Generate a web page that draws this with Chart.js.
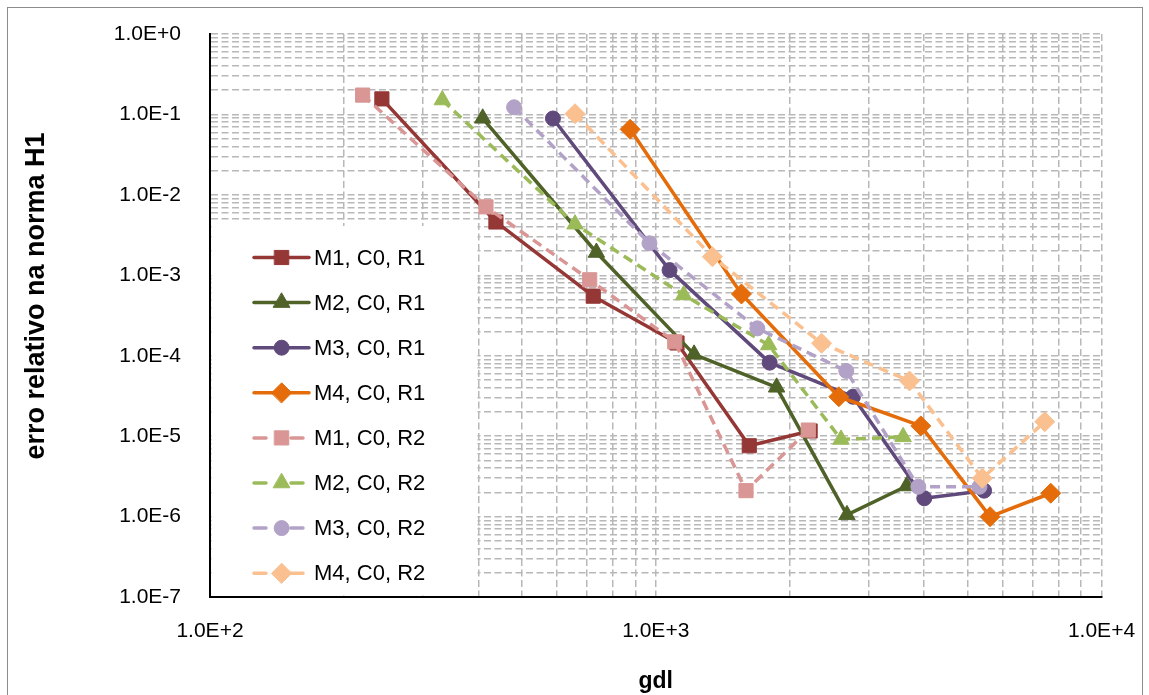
<!DOCTYPE html>
<html>
<head>
<meta charset="utf-8">
<script src="https://cdn.jsdelivr.net/npm/chart.js@4.4.1/dist/chart.umd.min.js"></script>
<style>
html,body{margin:0;padding:0;background:#fff;}
canvas{display:block;}
</style>
</head>
<body>
<canvas id="c" width="1149" height="695"></canvas>
<script>
// ---------- data ----------
const seriesNames = ['M1, C0, R1','M2, C0, R1','M3, C0, R1','M4, C0, R1','M1, C0, R2','M2, C0, R2','M3, C0, R2','M4, C0, R2'];

const m1r1X = [243, 438, 724, 1116, 1621, 2220];
const m1r1Y = [0.156, 4.6e-3, 5.5e-4, 1.44e-4, 7.6e-6, 1.16e-5];
const m2r1X = [409, 736, 1219, 1867, 2685, 3656];
const m2r1Y = [8.95e-2, 1.92e-3, 1.04e-4, 4.05e-5, 1.05e-6, 2.4e-6];
const m3r1X = [588, 1074, 1801, 2770, 4003, 5452];
const m3r1Y = [8.9e-2, 1.16e-3, 8.2e-5, 3.09e-5, 1.69e-6, 2.1e-6];
const m4r1X = [876, 1557, 2575, 3932, 5623, 7693];
const m4r1Y = [6.53e-2, 5.85e-4, 3.09e-5, 1.34e-5, 9.97e-7, 1.95e-6];
const m1r2X = [220, 416, 711, 1103, 1594, 2199];
const m1r2Y = [0.174, 7.1e-3, 8.8e-4, 1.49e-4, 2.1e-6, 1.19e-5];
const m2r2X = [332, 659, 1155, 1792, 2604, 3589];
const m2r2Y = [0.151, 4.32e-3, 5.69e-4, 1.36e-4, 9.1e-6, 9.8e-6];
const m3r2X = [481, 968, 1690, 2676, 3882, 5324];
const m3r2Y = [0.1227, 2.5e-3, 2.19e-4, 6.46e-5, 2.35e-6, 2.35e-6];
const m4r2X = [659, 1340, 2355, 3709, 5402, 7458];
const m4r2Y = [0.102, 1.70e-3, 1.43e-4, 4.85e-5, 2.99e-6, 1.51e-5];

const xMajorTicks = [1e2, 1e3, 1e4];
const yMajorTicks = [1e-7, 1e-6, 1e-5, 1e-4, 1e-3, 1e-2, 1e-1, 1e0];
const minorMultipliers = [1, 2, 3, 4, 5, 6, 7, 8, 9];

const xTitle = 'gdl';
const yTitle = 'erro relativo na norma H1';

// ---------- styles ----------
const colors = ['#953735','#4F6228','#604A7B','#E46C0A','#D99694','#9BBB59','#B3A2C7','#FAC090'];
const shapes = ['rect','triangle','circle','rectRot','rect','triangle','circle','rectRot'];
const radiusOf = {rect: 10, triangle: 9.5, circle: 7.5, rectRot: 10};
const dashed = [false,false,false,false,true,true,true,true];

const xs = [m1r1X, m2r1X, m3r1X, m4r1X, m1r2X, m2r2X, m3r2X, m4r2X];
const ys = [m1r1Y, m2r1Y, m3r1Y, m4r1Y, m1r2Y, m2r2Y, m3r2Y, m4r2Y];

function gridValues(majors) {
  const out = [];
  for (let i = 0; i < majors.length - 1; i++) {
    const e = Math.round(Math.log10(majors[i]));
    minorMultipliers.forEach(m => out.push(Number(m + 'e' + e)));
  }
  out.push(majors[majors.length - 1]);
  return out;
}
const xGrid = gridValues(xMajorTicks);
const yGrid = gridValues(yMajorTicks);

function isDecade(v) {
  const l = Math.log10(v);
  return Math.abs(l - Math.round(l)) < 1e-9;
}
function fmt(v) {
  return isDecade(v) ? Number(v).toExponential(1).toUpperCase() : '';
}

const datasets = seriesNames.map((name, i) => ({
  label: name,
  data: xs[i].map((x, k) => ({x: x, y: ys[i][k]})),
  borderColor: colors[i],
  backgroundColor: colors[i],
  pointBackgroundColor: colors[i],
  pointBorderColor: colors[i],
  pointBorderWidth: 1,
  pointStyle: shapes[i],
  pointRadius: radiusOf[shapes[i]],
  pointHoverRadius: radiusOf[shapes[i]],
  borderWidth: 3.5,
  borderDash: dashed[i] ? [10, 6] : [],
  showLine: true,
  tension: 0,
  fill: false,
  order: seriesNames.length - i
}));

const FONT = "'Liberation Sans', Arial, sans-serif";
const gridColor = '#B8B8B8';

function zeroPad(s) {
  s.paddingLeft = 0; s.paddingRight = 0; s.paddingTop = 0; s.paddingBottom = 0;
}

const frame = {
  id: 'frame',
  beforeDraw(chart) {
    const ctx = chart.ctx;
    ctx.save();
    ctx.fillStyle = '#fff';
    ctx.fillRect(0, 0, chart.width, chart.height);
    ctx.strokeStyle = '#8C8C8C';
    ctx.lineWidth = 1;
    ctx.strokeRect(7.5, 7.5, 1135, 720);
    ctx.restore();
  }
};

const yTitlePlugin = {
  id: 'yTitle',
  afterDraw(chart) {
    const ctx = chart.ctx;
    ctx.save();
    ctx.translate(37, 296);
    ctx.rotate(-Math.PI / 2);
    ctx.fillStyle = '#000';
    ctx.font = 'bold 27px ' + FONT;
    ctx.textAlign = 'center';
    ctx.textBaseline = 'middle';
    ctx.fillText(yTitle, 0, 0);
    ctx.restore();
  }
};

const boxLegend = {
  id: 'boxLegend',
  afterDraw(chart) {
    const ctx = chart.ctx;
    const ca = chart.chartArea;
    ctx.save();
    ctx.fillStyle = '#fff';
    ctx.fillRect(ca.left + 1.5, 226, 266, ca.bottom - 226 - 1.5);
    chart.data.datasets.forEach((ds, i) => {
      const y = 257.5 + i * 45.1;
      ctx.save();
      ctx.strokeStyle = ds.borderColor;
      ctx.lineWidth = ds.borderWidth;
      ctx.lineCap = 'round';
      ctx.beginPath();
      if (dashed[i]) {
        ctx.moveTo(254, y); ctx.lineTo(266, y);
        ctx.moveTo(291, y); ctx.lineTo(303, y);
      } else {
        ctx.moveTo(254, y); ctx.lineTo(309, y);
      }
      ctx.stroke();
      ctx.fillStyle = ds.backgroundColor;
      ctx.strokeStyle = ds.borderColor;
      ctx.lineWidth = 1;
      ctx.setLineDash([]);
      Chart.helpers.drawPoint(ctx, {pointStyle: ds.pointStyle, radius: ds.pointRadius, borderWidth: 1, rotation: 0}, 281.7, y);
      ctx.restore();
      ctx.fillStyle = '#000';
      ctx.font = '22px ' + FONT;
      ctx.textBaseline = 'middle';
      ctx.textAlign = 'left';
      ctx.fillText(ds.label, 314, y + 1);
    });
    ctx.restore();
  }
};

const chart = new Chart(document.getElementById('c'), {
  type: 'scatter',
  data: {datasets: datasets},
  options: {
    responsive: false,
    animation: false,
    devicePixelRatio: 1,
    layout: {padding: {left: 0, right: 47.5, top: 34, bottom: 0}},
    plugins: {legend: {display: false}, tooltip: {enabled: false}},
    elements: {line: {borderCapStyle: 'butt', borderJoinStyle: 'round'}},
    scales: {
      x: {
        type: 'logarithmic',
        position: 'bottom',
        min: xMajorTicks[0],
        max: xMajorTicks[xMajorTicks.length - 1],
        afterBuildTicks: s => { s.ticks = xGrid.map(v => ({value: v})); },
        afterFit: s => { s.height = 98; zeroPad(s); },
        ticks: {
          autoSkip: false, maxRotation: 0, minRotation: 0,
          callback: v => fmt(v),
          color: '#000', padding: 22,
          font: {family: FONT, size: 21}
        },
        grid: {color: gridColor, lineWidth: 1.5, drawTicks: false},
        border: {display: true, color: '#000', width: 2, dash: [7, 3.5]},
        title: {display: true, text: xTitle, color: '#000',
          font: {family: FONT, size: 23, weight: 'bold'}, padding: {top: 0, bottom: 0}}
      },
      y: {
        type: 'logarithmic',
        position: 'left',
        min: yMajorTicks[0],
        max: yMajorTicks[yMajorTicks.length - 1],
        afterBuildTicks: s => { s.ticks = yGrid.map(v => ({value: v})); },
        afterFit: s => { s.width = 210; zeroPad(s); },
        ticks: {
          autoSkip: false,
          callback: v => fmt(v),
          color: '#000', padding: 29,
          font: {family: FONT, size: 21}
        },
        grid: {color: gridColor, lineWidth: 1.5, drawTicks: false},
        border: {display: true, color: '#000', width: 2, dash: [7, 3.5]},
        title: {display: false, text: yTitle}
      }
    }
  },
  plugins: [frame, boxLegend, yTitlePlugin]
});
</script>
</body>
</html>
